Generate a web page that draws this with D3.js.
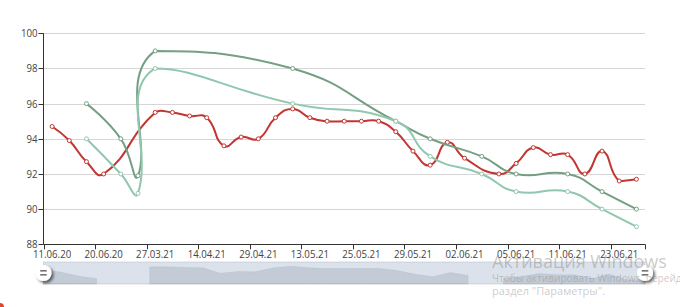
<!DOCTYPE html>
<html>
<head>
<meta charset="utf-8">
<script src="https://cdn.jsdelivr.net/npm/d3@7"></script>
<style>
  html, body { margin: 0; padding: 0; background: #fff; overflow: hidden; }
  svg { display: block; }
  text { font-family: "Open Sans", "Noto Sans", sans-serif; }
</style>
</head>
<body>
<svg id="chart" width="680" height="307"></svg>
<script>
/* ── data ─────────────────────────────────────────────────────── */

// 35 daily categories, every third one is labelled
const CAT_COUNT = 35;
const tickLabels = [
  "11.06.20", "20.06.20", "27.03.21", "14.04.21", "29.04.21", "13.05.21",
  "25.05.21", "29.05.21", "02.06.21", "05.06.21", "11.06.21", "23.06.21",
];
const LABEL_STEP = 3;

const yTicks = [88, 90, 92, 94, 96, 98, 100];

// null = no value that day (line is connected across)
const redValues = [
  94.7, 93.9, 92.7, 92.0, null, null, 95.5, 95.5, 95.3, 95.2,
  93.6, 94.1, 94.0, 95.2, 95.7, 95.2, 95.0, 95.0, 95.0, 95.0,
  94.4, 93.3, 92.5, 93.8, 92.9, null, 92.0, 92.6, 93.5, 93.1,
  93.1, 92.0, 93.3, 91.6, 91.7,
];
const darkGreenValues = [
  null, null, 96.0, null, 94.0, 91.9, 99.0, null, null, null,
  null, null, null, null, 98.0, null, null, null, null, null,
  95.0, null, 94.0, null, null, 93.0, null, 92.0, null, null,
  92.0, null, 91.0, null, 90.0,
];
const lightGreenValues = [
  null, null, 94.0, null, 92.0, 90.9, 98.0, null, null, null,
  null, null, null, null, 96.0, null, null, null, null, null,
  95.0, null, 93.0, null, null, 92.0, null, 91.0, null, null,
  91.0, null, 90.0, null, 89.0,
];

const SERIES = [
  { name: "red",   values: redValues,        color: "#c23531" },
  { name: "dark",  values: darkGreenValues,  color: "#749f83" },
  { name: "light", values: lightGreenValues, color: "#91c7ae" },
];

/* ── layout ───────────────────────────────────────────────────── */
const GRID = { left: 43.5, right: 645, top: 33.3, bottom: 244.3 };
const SLIDER = { top: 262, bottom: 284 };
const TXT_SX = 0.84;   // squeeze labels a bit, like the source font

const svg = d3.select("#chart");

const x = d3.scaleBand()
  .domain(d3.range(CAT_COUNT))
  .range([GRID.left, GRID.right])
  .paddingInner(0).paddingOuter(0);
const xc = i => x(i) + x.bandwidth() / 2;

const y = d3.scaleLinear().domain([88, 100]).range([GRID.bottom, GRID.top]);

// ── grid lines ───────────────────────────────────────────────────
svg.append("g").selectAll("line")
  .data(yTicks.filter(t => t !== 88))
  .join("line")
    .attr("x1", GRID.left).attr("x2", GRID.right)
    .attr("y1", d => Math.round(y(d)) + 0.5)
    .attr("y2", d => Math.round(y(d)) + 0.5)
    .attr("stroke", "#d6d6d6");

// ── y axis ───────────────────────────────────────────────────────
const yAxis = svg.append("g");
yAxis.append("line")
  .attr("x1", GRID.left).attr("x2", GRID.left)
  .attr("y1", GRID.top).attr("y2", GRID.bottom)
  .attr("stroke", "#333");
yAxis.selectAll("line.tick")
  .data(yTicks)
  .join("line").attr("class", "tick")
    .attr("x1", GRID.left - 5).attr("x2", GRID.left)
    .attr("y1", d => Math.round(y(d)) + 0.5)
    .attr("y2", d => Math.round(y(d)) + 0.5)
    .attr("stroke", "#333");
yAxis.selectAll("text")
  .data(yTicks)
  .join("text")
    .attr("transform", d => `translate(37.5,${y(d)}) scale(${TXT_SX},1)`)
    .attr("text-anchor", "end")
    .attr("dy", "0.35em")
    .attr("font-size", 11.5)
    .attr("fill", "#444")
    .text(d => d);

// ── x axis ───────────────────────────────────────────────────────
const xAxis = svg.append("g");
xAxis.append("line")
  .attr("x1", GRID.left).attr("x2", GRID.right)
  .attr("y1", Math.round(GRID.bottom) + 0.5).attr("y2", Math.round(GRID.bottom) + 0.5)
  .attr("stroke", "#333");

const labelled = d3.range(0, CAT_COUNT, LABEL_STEP).slice(0, tickLabels.length);
const tickXs = labelled.map(i => x(i)).concat([GRID.right]);
xAxis.selectAll("line.tick")
  .data(tickXs)
  .join("line").attr("class", "tick")
    .attr("x1", d => Math.round(d) + 0.5).attr("x2", d => Math.round(d) + 0.5)
    .attr("y1", GRID.bottom).attr("y2", GRID.bottom + 5)
    .attr("stroke", "#333");
xAxis.selectAll("text")
  .data(labelled)
  .join("text")
    .attr("transform", i => `translate(${xc(i)},253.5) scale(${TXT_SX},1)`)
    .attr("text-anchor", "middle")
    .attr("dy", "0.35em")
    .attr("font-size", 11.5)
    .attr("fill", "#444")
    .text((i, k) => tickLabels[k]);

// ── smooth line (echarts-4 style bezier, nulls connected) ────────
function smoothPath(pts, smooth) {
  const ok = pts.filter(p => p);
  const lo = [d3.min(ok, p => p[0]), d3.min(ok, p => p[1])];
  const hi = [d3.max(ok, p => p[0]), d3.max(ok, p => p[1])];
  const clamp = c => [Math.max(lo[0], Math.min(hi[0], c[0])), Math.max(lo[1], Math.min(hi[1], c[1]))];

  const path = d3.path();
  let prev = null, cp0 = null, v = [0, 0];
  pts.forEach((p, i) => {
    if (!p) return;
    if (!prev) {
      path.moveTo(p[0], p[1]);
      cp0 = p.slice();
      prev = p;
      return;
    }
    let j = i + 1;
    while (j < pts.length && !pts[j]) j++;
    const next = pts[j];
    let ratio = 0.5, cp1;
    if (!next) {
      cp1 = p.slice();
    } else {
      v = [next[0] - prev[0], next[1] - prev[1]];
      const lp = Math.hypot(p[0] - prev[0], p[1] - prev[1]);
      const ln = Math.hypot(next[0] - p[0], next[1] - p[1]);
      ratio = ln / (ln + lp);
      cp1 = [p[0] - v[0] * smooth * (1 - ratio), p[1] - v[1] * smooth * (1 - ratio)];
    }
    const a = clamp(cp0), b = clamp(cp1);
    path.bezierCurveTo(a[0], a[1], b[0], b[1], p[0], p[1]);
    cp0 = [p[0] + v[0] * smooth * ratio, p[1] + v[1] * smooth * ratio];
    prev = p;
  });
  return path.toString();
}

const plot = svg.append("g");
SERIES.forEach(s => {
  const pts = s.values.map((v, i) => v == null ? null : [xc(i), y(v)]);
  const g = plot.append("g").attr("class", `series-${s.name}`);
  g.append("path")
    .attr("d", smoothPath(pts, 0.5))
    .attr("fill", "none")
    .attr("stroke", s.color)
    .attr("stroke-width", 2)
    .attr("stroke-linejoin", "round");
  g.selectAll("circle")
    .data(s.values.map((v, i) => ({ v, i })).filter(d => d.v != null))
    .join("circle")
      .attr("cx", d => xc(d.i))
      .attr("cy", d => y(d.v))
      .attr("r", 2)
      .attr("fill", "#fff")
      .attr("stroke", s.color)
      .attr("stroke-width", 1);
});

// ── data-zoom slider ─────────────────────────────────────────────
const sl = svg.append("g");
const slH = SLIDER.bottom - SLIDER.top;
sl.append("rect")
  .attr("x", GRID.left).attr("y", SLIDER.top)
  .attr("width", GRID.right - GRID.left).attr("height", slH)
  .attr("fill", "none").attr("stroke", "#ddd");

// shadow of the first series
const ext = d3.extent(redValues.filter(v => v != null));
const off = (ext[1] - ext[0]) * 0.3;
const shY = d3.scaleLinear().domain([ext[0] - off, ext[1] + off]).range([SLIDER.bottom, SLIDER.top]).clamp(true);
const shX = d3.scaleLinear().domain([0, CAT_COUNT - 1]).range([GRID.left, GRID.right]);
const shadowArea = d3.area()
  .defined(v => v != null)
  .x((v, i) => shX(i))
  .y0(SLIDER.bottom)
  .y1(v => shY(v));
sl.append("path")
  .attr("d", shadowArea(redValues))
  .attr("fill", "#2f4554").attr("fill-opacity", 0.2)
  .attr("stroke", "#2f4554").attr("stroke-opacity", 0.2).attr("stroke-width", 0.5);

sl.append("rect")
  .attr("x", GRID.left).attr("y", SLIDER.top)
  .attr("width", GRID.right - GRID.left).attr("height", slH)
  .attr("fill", "rgba(167,183,204,0.4)");

const defs = svg.append("defs");
const f = defs.append("filter").attr("id", "hshadow")
  .attr("x", "-50%").attr("y", "-50%").attr("width", "200%").attr("height", "200%");
f.append("feDropShadow")
  .attr("dx", 2).attr("dy", 2).attr("stdDeviation", 1.5)
  .attr("flood-color", "#000").attr("flood-opacity", 0.6);

const handles = sl.selectAll("g.handle")
  .data([GRID.left, GRID.right])
  .join("g").attr("class", "handle")
    .attr("transform", d => `translate(${d},${(SLIDER.top + SLIDER.bottom) / 2})`);
handles.append("circle")
  .attr("r", 8).attr("fill", "#fff").attr("filter", "url(#hshadow)");
handles.selectAll("rect")
  .data([-2.2, 1.8])
  .join("rect")
    .attr("x", -3.3).attr("y", d => d - 0.6)
    .attr("width", 6.6).attr("height", 1.3)
    .attr("fill", "#555");

// ── OS watermark sitting over the screenshot ─────────────────────
const wm = svg.append("g").attr("fill", "#8a8a8a").attr("fill-opacity", 0.45);
wm.append("text")
  .attr("x", 492).attr("y", 268)
  .attr("font-size", 18)
  .text("Активация Windows");
wm.append("text")
  .attr("transform", `translate(492,281.5) scale(0.92,1)`)
  .attr("font-size", 11)
  .text("Чтобы активировать Windows, перейдите в");
wm.append("text")
  .attr("x", 492).attr("y", 294.5)
  .attr("font-size", 11)
  .text("раздел \"Параметры\".");

svg.append("circle")
  .attr("cx", 0).attr("cy", 307).attr("r", 4)
  .attr("fill", "#e0452f");
</script>
</body>
</html>
